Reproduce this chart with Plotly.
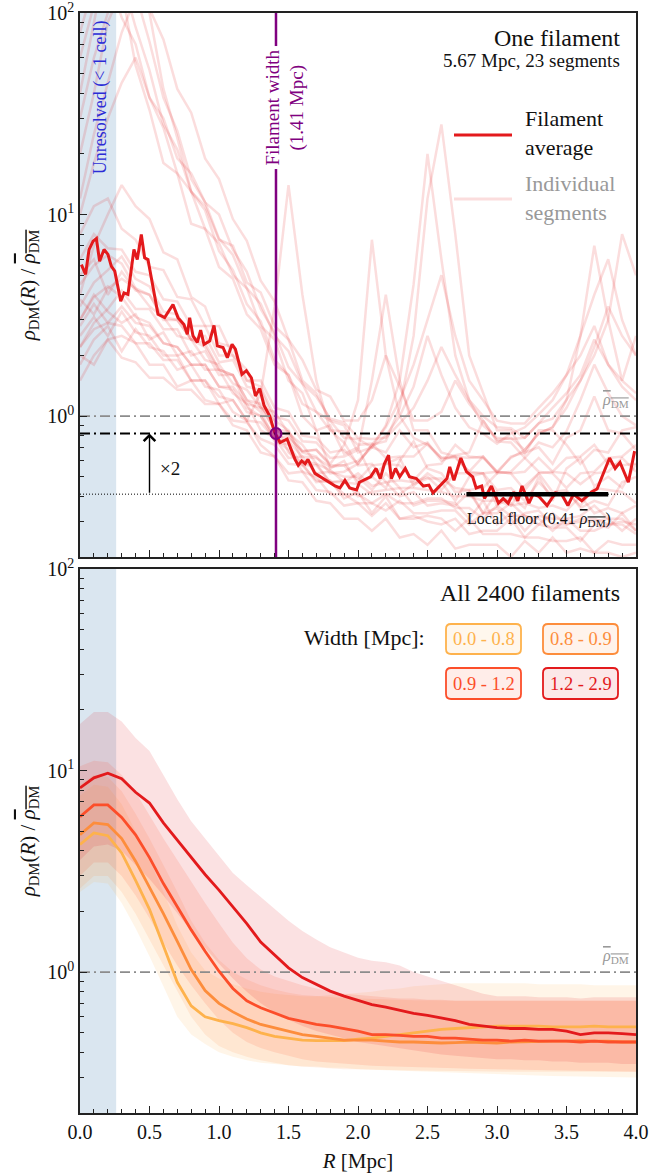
import numpy as np
import plotly.graph_objects as go

# ---------------- data: top panel (one filament) ----------------
R_grid = [round(0.1 * i, 1) for i in range(41)]

R_avg = [0.01, 0.04, 0.065, 0.094, 0.118, 0.141, 0.173, 0.201, 0.225, 0.25, 0.293, 0.317, 0.345,
         0.388, 0.412, 0.441, 0.465, 0.489, 0.561, 0.609, 0.669, 0.705, 0.748, 0.772, 0.789, 0.813,
         0.844, 0.868, 0.892, 0.933, 0.964, 0.988, 1.029, 1.06, 1.094, 1.118, 1.165, 1.197, 1.233,
         1.262, 1.293, 1.324, 1.365, 1.40, 1.44, 1.49, 1.52, 1.547, 1.57, 1.595, 1.62, 1.64, 1.69,
         1.75, 1.80, 1.835, 1.87, 1.906, 1.94, 1.99, 2.01, 2.09, 2.13, 2.16, 2.19, 2.22, 2.24, 2.27,
         2.30, 2.34, 2.37, 2.42, 2.47, 2.51, 2.54, 2.59, 2.64, 2.66, 2.69, 2.74, 2.78, 2.825, 2.85,
         2.89, 2.91, 2.96, 3.01, 3.045, 3.08, 3.12, 3.15, 3.18, 3.23, 3.26, 3.30, 3.36, 3.42, 3.465,
         3.51, 3.55, 3.61, 3.68, 3.72, 3.77, 3.81, 3.85, 3.885, 3.945, 3.99]
rho_avg = [5.65, 5.05, 6.7, 7.38, 7.6, 5.87, 6.71, 6.34, 5.55, 5.24, 3.72, 4.09, 4.02,
           6.71, 5.98, 7.96, 6.1, 5.98, 3.2, 3.08, 3.58, 3.08, 2.85, 2.55, 3.08, 2.5,
           2.32, 2.67, 2.27, 2.36, 2.82, 2.23, 2.19, 1.95, 2.27, 2.15, 1.61, 1.68, 1.55,
           1.26, 1.37, 1.13, 1.0, 0.83, 0.74, 0.77, 0.68, 0.61, 0.57, 0.60, 0.58, 0.61, 0.52,
           0.49, 0.47, 0.45, 0.44, 0.48, 0.44, 0.43, 0.47, 0.50, 0.55, 0.49, 0.58, 0.64, 0.49, 0.55,
           0.50, 0.55, 0.50, 0.49, 0.45, 0.455, 0.416, 0.45, 0.49, 0.56, 0.48, 0.62, 0.53, 0.50, 0.44,
           0.45, 0.39, 0.45, 0.37, 0.39, 0.37, 0.42, 0.38, 0.45, 0.37, 0.41, 0.40, 0.36, 0.416, 0.41,
           0.36, 0.41, 0.38, 0.42, 0.435, 0.53, 0.62, 0.55, 0.59, 0.47, 0.67]

seg01 = [60, 110, 150, 95, 70, 38, 27, 16, 13, 8.5, 7.2, 5, 4.3, 2.8, 2.4, 1.5, 1.3, 0.85, 0.9, 0.65, 0.7, 0.5, 0.58, 0.62, 0.45, 0.52, 0.47, 0.38, 0.5, 0.52, 0.36, 0.4, 0.35, 0.5, 0.38, 0.55, 0.62, 0.45, 0.5, 0.44, 0.58]
seg02 = [20, 40, 90, 130, 55, 33, 18, 16, 9, 8.5, 5.5, 4.8, 3.2, 2.7, 1.8, 1.6, 1.0, 0.85, 0.55, 0.6, 0.46, 0.5, 0.44, 0.6, 0.75, 0.55, 0.52, 0.42, 0.43, 0.33, 0.42, 0.36, 0.45, 0.52, 0.42, 0.43, 0.35, 0.38, 0.36, 0.47, 0.5]
seg03 = [8, 11, 12, 8.5, 7.5, 5.5, 5.3, 3.9, 3.8, 2.8, 2.8, 2.0, 1.7, 1.1, 0.95, 0.66, 0.58, 0.47, 0.48, 0.39, 0.42, 0.33, 0.4, 0.31, 0.32, 0.3, 0.29, 0.31, 0.26, 0.27, 0.27, 0.31, 0.25, 0.29, 0.28, 0.28, 0.24, 0.29, 0.28, 0.33, 0.27]
seg04 = [5, 6, 4, 5.2, 4.2, 4.0, 3.0, 3.0, 2.4, 2.3, 1.7, 1.6, 1.1, 1.0, 0.75, 0.72, 0.57, 0.57, 0.47, 0.47, 0.52, 0.45, 0.47, 0.4, 0.42, 0.36, 0.37, 0.36, 0.42, 0.33, 0.35, 0.29, 0.33, 0.34, 0.29, 0.29, 0.31, 0.31, 0.29, 0.3, 0.29]
seg05 = [3, 4, 3.3, 2.9, 3.2, 2.4, 2.6, 2.0, 2.1, 1.7, 1.7, 1.3, 1.15, 0.85, 0.78, 0.62, 0.63, 0.52, 0.53, 0.5, 0.5, 0.43, 0.52, 0.44, 0.44, 0.43, 0.42, 0.4, 0.4, 0.38, 0.38, 0.36, 0.37, 0.35, 0.36, 0.34, 0.4, 0.33, 0.35, 0.33, 0.36]
seg06 = [2.2, 2.9, 3.4, 4.2, 3.4, 3.4, 2.7, 2.7, 2.0, 2.1, 1.6, 1.6, 1.2, 1.15, 0.85, 0.8, 0.66, 0.63, 0.52, 0.53, 0.58, 0.72, 0.75, 1.1, 2.5, 12, 28, 8, 2, 1.3, 0.85, 0.85, 0.65, 0.85, 0.85, 0.72, 0.58, 0.68, 0.66, 0.85, 0.88]
seg07 = [4, 7, 10, 14, 11, 9.5, 6.5, 6, 3.9, 3.5, 2.3, 2.2, 1.5, 1.4, 1.0, 0.95, 0.75, 0.74, 0.62, 0.63, 0.68, 1.5, 4, 1.5, 0.85, 0.85, 0.66, 0.63, 0.62, 0.63, 0.52, 0.63, 0.66, 0.7, 0.58, 0.78, 0.85, 1.25, 0.85, 0.82, 0.68]
seg08 = [12, 25, 45, 80, 120, 100, 42, 24, 13, 11, 7.5, 7, 4.6, 4.1, 2.8, 2.4, 1.5, 1.3, 0.95, 0.9, 0.66, 0.7, 0.66, 0.85, 0.7, 0.74, 0.6, 0.64, 0.66, 0.95, 0.75, 0.74, 0.62, 0.74, 0.7, 0.84, 1.2, 1.8, 1.3, 1.0, 0.9]
seg09 = [3.5, 4.6, 5.3, 6.2, 4.8, 4.4, 3.3, 3.2, 2.4, 2.5, 1.85, 1.9, 1.4, 1.35, 0.95, 0.85, 0.6, 0.58, 0.47, 0.48, 0.4, 0.42, 0.43, 0.44, 0.36, 0.38, 0.38, 0.37, 0.31, 0.38, 0.29, 0.33, 0.27, 0.32, 0.31, 0.31, 0.27, 0.27, 0.29, 0.29, 0.26]
seg10 = [2.5, 3.1, 2.5, 3.3, 2.6, 2.5, 2.0, 2.0, 1.5, 1.5, 1.15, 1.2, 0.95, 1.3, 3.5, 14, 4, 1.5, 0.85, 0.74, 0.57, 0.58, 0.47, 0.48, 0.47, 0.5, 0.43, 0.52, 0.52, 0.52, 0.43, 0.44, 0.38, 0.47, 0.4, 0.42, 0.36, 0.44, 0.43, 0.42, 0.37]
seg11 = [1.8, 2.4, 2.8, 2.1, 2.7, 2.2, 2.1, 1.7, 1.8, 1.4, 1.35, 1.05, 0.95, 0.72, 0.63, 0.48, 0.47, 0.38, 0.37, 0.31, 0.31, 0.27, 0.31, 0.25, 0.26, 0.23, 0.27, 0.22, 0.23, 0.23, 0.23, 0.2, 0.24, 0.21, 0.25, 0.21, 0.22, 0.21, 0.21, 0.2, 0.21]
seg12 = [30, 60, 100, 140, 160, 105, 74, 42, 32, 19, 15, 9.5, 7.4, 4.7, 3.7, 2.4, 1.9, 1.35, 1.25, 0.95, 0.95, 1.2, 2.0, 1.4, 0.95, 0.95, 1.05, 1.5, 1.15, 0.95, 0.76, 0.78, 0.68, 0.82, 0.88, 1.1, 1.5, 2.2, 3.5, 2.5, 2.0]
seg13 = [6, 8, 6.8, 6.7, 5.2, 5.0, 3.8, 3.7, 2.8, 2.8, 2.0, 2.0, 1.5, 1.5, 1.1, 1.05, 0.8, 0.78, 0.66, 0.68, 0.58, 0.72, 0.88, 1.2, 1.8, 3.0, 5.0, 2.5, 1.5, 1.2, 0.95, 0.92, 0.92, 1.1, 1.3, 1.6, 2.0, 2.8, 1.8, 1.4, 1.2]
seg14 = [2, 1.8, 2.4, 2.5, 2.3, 1.8, 1.8, 1.4, 1.5, 1.2, 1.15, 0.9, 0.85, 0.66, 0.63, 0.52, 0.53, 0.43, 0.42, 0.36, 0.37, 0.32, 0.37, 0.31, 0.31, 0.32, 0.31, 0.27, 0.31, 0.26, 0.26, 0.26, 0.25, 0.25, 0.24, 0.24, 0.25, 0.21, 0.24, 0.23, 0.23]
seg15 = [3, 3.9, 4.4, 3.9, 3.1, 2.9, 2.3, 2.2, 1.8, 1.8, 1.4, 1.35, 1.05, 1.0, 0.8, 0.78, 0.67, 0.68, 0.57, 0.57, 0.48, 0.57, 0.58, 0.57, 0.48, 0.57, 0.58, 0.72, 0.63, 0.62, 0.53, 0.62, 0.68, 0.82, 0.88, 1.2, 2.5, 7, 3, 1.5, 2.5]
seg16 = [80, 140, 180, 150, 85, 52, 28, 21, 13, 10.5, 6.6, 5.3, 3.6, 2.95, 1.9, 1.6, 1.15, 1.05, 0.85, 0.84, 0.72, 0.73, 0.62, 0.63, 0.63, 0.73, 0.62, 0.63, 0.53, 0.63, 0.53, 0.52, 0.53, 0.62, 0.53, 0.62, 0.63, 0.72, 0.58, 0.57, 0.58]
seg17 = [2.8, 3.6, 2.9, 3.5, 2.9, 2.8, 2.3, 2.2, 1.8, 1.8, 1.4, 1.4, 1.15, 1.1, 0.86, 0.84, 0.67, 0.68, 0.58, 0.72, 1.2, 7.5, 2.0, 1.0, 0.78, 0.72, 0.62, 0.62, 0.53, 0.52, 0.53, 0.52, 0.43, 0.52, 0.53, 0.52, 0.46, 0.52, 0.53, 0.62, 0.53]
seg18 = [4.5, 5.6, 6.3, 5.7, 4.3, 4.0, 3.1, 3.0, 2.4, 2.2, 1.7, 1.6, 1.2, 1.05, 0.77, 0.68, 0.53, 0.5, 0.41, 0.41, 0.37, 0.37, 0.34, 0.38, 0.33, 0.33, 0.34, 0.34, 0.29, 0.33, 0.33, 0.37, 0.32, 0.31, 0.27, 0.31, 0.32, 0.36, 0.31, 0.31, 0.27]
seg19 = [2.2, 2.7, 2.9, 2.8, 2.3, 2.3, 1.9, 1.9, 1.5, 1.5, 1.25, 1.2, 0.95, 0.93, 0.77, 0.75, 0.63, 0.62, 0.56, 0.57, 0.6, 0.7, 0.9, 1.5, 4.5, 20, 6, 2, 1.2, 0.9, 0.78, 0.77, 0.78, 0.92, 0.97, 1.2, 1.5, 2.0, 3.0, 8.0, 5]
seg20 = [1.5, 2.0, 2.4, 1.95, 1.85, 1.55, 1.55, 1.35, 1.35, 1.15, 1.15, 0.95, 0.93, 0.77, 0.72, 0.58, 0.57, 0.48, 0.47, 0.41, 0.41, 0.37, 0.41, 0.41, 0.46, 0.49, 0.49, 0.44, 0.43, 0.44, 0.52, 0.53, 0.62, 0.53, 0.52, 0.44, 0.52, 0.53, 0.62, 0.63, 0.72]
seg21 = [10, 18, 30, 45, 60, 38, 30, 19, 16, 11.5, 10, 6.7, 5.2, 3.4, 2.6, 1.75, 1.45, 1.05, 0.95, 0.78, 0.77, 0.7, 0.8, 1.0, 1.4, 2.5, 1.6, 1.1, 0.88, 0.82, 0.73, 0.82, 0.88, 1.02, 1.2, 1.6, 2.5, 4, 6, 3, 2]
seg22 = [3.8, 3.2, 4.3, 4.8, 4.3, 3.5, 3.1, 2.5, 2.4, 1.9, 1.8, 1.45, 1.35, 1.1, 1.05, 0.82, 0.72, 0.58, 0.54, 0.47, 0.46, 0.41, 0.41, 0.37, 0.37, 0.39, 0.39, 0.35, 0.35, 0.31, 0.36, 0.32, 0.32, 0.29, 0.33, 0.29, 0.3, 0.3, 0.31, 0.27, 0.31]
seg23 = [40, 90, 200, 220, 125, 72, 38, 26, 15, 11.5, 7.6, 6.3, 4.3, 3.6, 2.5, 2.1, 1.45, 1.25, 0.97, 0.93, 0.78, 0.77, 0.78, 0.92, 1.1, 1.5, 2.2, 1.6, 1.2, 1.0, 0.88, 0.87, 0.78, 0.92, 1.1, 1.3, 1.6, 2.4, 1.8, 1.5, 1.3]
segments = [seg01, seg02, seg03, seg04, seg05, seg06, seg07, seg08, seg09, seg10, seg11, seg12,
            seg13, seg14, seg15, seg16, seg17, seg18, seg19, seg20, seg21, seg22, seg23]

fil_width = 1.41
floor_val = 0.41
floor_R = [2.78, 3.80]
unresolved_R = 0.26

# ---------------- data: bottom panel (all filaments) ----------------
width_labels = ["0.0 - 0.8", "0.8 - 0.9", "0.9 - 1.2", "1.2 - 2.9"]
width_colors = ["#feb24c", "#fd8d3c", "#fc4e2a", "#e31a1c"]

med_w1 = [4.3, 4.9, 4.75, 3.9, 2.85, 2.05, 1.35, 0.89, 0.68, 0.60, 0.575, 0.555, 0.53, 0.50, 0.48, 0.47, 0.46, 0.457, 0.457, 0.457, 0.465, 0.47, 0.48, 0.49, 0.50, 0.51, 0.52, 0.525, 0.53, 0.535, 0.54, 0.54, 0.54, 0.54, 0.535, 0.535, 0.535, 0.54, 0.535, 0.535, 0.535]
med_w2 = [4.8, 5.5, 5.4, 4.6, 3.55, 2.65, 1.95, 1.42, 1.03, 0.81, 0.70, 0.635, 0.585, 0.55, 0.53, 0.51, 0.49, 0.48, 0.47, 0.46, 0.46, 0.46, 0.455, 0.45, 0.45, 0.447, 0.445, 0.447, 0.45, 0.447, 0.445, 0.45, 0.452, 0.455, 0.455, 0.455, 0.457, 0.455, 0.455, 0.45, 0.45]
med_w3 = [5.9, 6.75, 6.75, 5.85, 4.8, 3.7, 2.75, 2.1, 1.62, 1.27, 1.01, 0.83, 0.72, 0.665, 0.625, 0.59, 0.57, 0.55, 0.54, 0.525, 0.51, 0.49, 0.49, 0.485, 0.48, 0.48, 0.47, 0.47, 0.465, 0.46, 0.46, 0.455, 0.46, 0.455, 0.455, 0.455, 0.45, 0.455, 0.45, 0.45, 0.45]
med_w4 = [8.2, 9.2, 9.7, 9.1, 7.8, 6.9, 5.5, 4.5, 3.7, 3.05, 2.55, 2.1, 1.74, 1.41, 1.21, 1.05, 0.94, 0.87, 0.805, 0.76, 0.725, 0.69, 0.67, 0.645, 0.625, 0.61, 0.59, 0.575, 0.55, 0.54, 0.53, 0.525, 0.525, 0.52, 0.52, 0.51, 0.49, 0.50, 0.50, 0.495, 0.49]

up_w1 = [7.5, 8.5, 8.3, 6.8, 5.0, 3.6, 2.5, 1.7, 1.25, 1.02, 0.93, 0.87, 0.83, 0.80, 0.78, 0.77, 0.76, 0.76, 0.77, 0.78, 0.79, 0.80, 0.82, 0.83, 0.85, 0.86, 0.87, 0.88, 0.88, 0.88, 0.88, 0.88, 0.88, 0.87, 0.87, 0.87, 0.87, 0.86, 0.86, 0.86, 0.86]
lo_w1 = [2.5, 2.8, 2.75, 2.2, 1.65, 1.2, 0.85, 0.60, 0.49, 0.44, 0.40, 0.38, 0.365, 0.355, 0.35, 0.345, 0.34, 0.34, 0.335, 0.335, 0.33, 0.328, 0.326, 0.324, 0.322, 0.32, 0.318, 0.316, 0.314, 0.312, 0.31, 0.31, 0.308, 0.306, 0.305, 0.304, 0.303, 0.302, 0.301, 0.30, 0.30]
up_w2 = [8.5, 9.5, 9.3, 7.9, 6.1, 4.6, 3.4, 2.5, 1.8, 1.4, 1.15, 1.0, 0.92, 0.86, 0.82, 0.79, 0.77, 0.76, 0.75, 0.745, 0.74, 0.735, 0.73, 0.73, 0.725, 0.725, 0.72, 0.72, 0.72, 0.72, 0.72, 0.72, 0.72, 0.72, 0.72, 0.72, 0.72, 0.72, 0.72, 0.72, 0.72]
lo_w2 = [2.6, 3.0, 3.0, 2.5, 1.95, 1.45, 1.08, 0.80, 0.60, 0.49, 0.43, 0.40, 0.38, 0.365, 0.355, 0.345, 0.34, 0.336, 0.333, 0.33, 0.33, 0.328, 0.327, 0.326, 0.325, 0.324, 0.323, 0.322, 0.321, 0.32, 0.32, 0.32, 0.32, 0.32, 0.32, 0.32, 0.32, 0.32, 0.32, 0.32, 0.32]
up_w3 = [10.5, 11.2, 11.0, 9.5, 7.8, 6.0, 4.6, 3.6, 2.8, 2.2, 1.75, 1.4, 1.17, 1.03, 0.95, 0.90, 0.86, 0.83, 0.80, 0.78, 0.77, 0.76, 0.75, 0.74, 0.74, 0.73, 0.73, 0.72, 0.72, 0.72, 0.72, 0.72, 0.72, 0.72, 0.72, 0.72, 0.72, 0.72, 0.72, 0.72, 0.72]
lo_w3 = [3.0, 3.5, 3.5, 3.0, 2.4, 1.85, 1.4, 1.08, 0.86, 0.70, 0.58, 0.50, 0.45, 0.42, 0.40, 0.385, 0.37, 0.36, 0.355, 0.35, 0.345, 0.343, 0.341, 0.339, 0.337, 0.335, 0.334, 0.333, 0.332, 0.331, 0.33, 0.329, 0.328, 0.327, 0.326, 0.325, 0.324, 0.323, 0.322, 0.321, 0.32]
up_w4 = [17, 19.5, 19.5, 17.5, 14.5, 12.5, 9.5, 7.2, 5.6, 4.6, 3.8, 3.1, 2.7, 2.35, 2.05, 1.8, 1.6, 1.45, 1.33, 1.25, 1.18, 1.14, 1.12, 1.08, 1.0, 0.95, 0.90, 0.86, 0.82, 0.78, 0.76, 0.76, 0.76, 0.75, 0.75, 0.75, 0.74, 0.75, 0.75, 0.75, 0.75]
lo_w4 = [3.6, 4.2, 4.3, 4.0, 3.4, 2.9, 2.4, 1.95, 1.6, 1.32, 1.1, 0.93, 0.80, 0.70, 0.63, 0.58, 0.54, 0.51, 0.49, 0.47, 0.45, 0.44, 0.43, 0.42, 0.41, 0.40, 0.39, 0.385, 0.38, 0.375, 0.37, 0.37, 0.365, 0.365, 0.36, 0.36, 0.355, 0.355, 0.355, 0.35, 0.35]

medians = [med_w1, med_w2, med_w3, med_w4]
uppers = [up_w1, up_w2, up_w3, up_w4]
lowers = [lo_w1, lo_w2, lo_w3, lo_w4]

# ---------------- figure ----------------
FONT = "Liberation Serif"
W, H = 671, 1173
ML, MR, MT, MB = 80, 35, 13, 60
PW = W - ML - MR
PH = H - MT - MB
GAP = 12
panel_h = (PH - GAP) / 2.0


def rgba(hexc, a):
    h = hexc.lstrip('#')
    return "rgba(%d,%d,%d,%.3f)" % (int(h[0:2], 16), int(h[2:4], 16), int(h[4:6], 16), a)


def px2paper(px, py):
    return (px - ML) / PW, (H - MB - py) / PH


fig = go.Figure()

RED = "#e31a1c"
PURPLE = "#800080"

for s in segments:
    fig.add_trace(go.Scatter(x=R_grid, y=s, mode="lines", xaxis="x", yaxis="y",
                             line=dict(color=rgba(RED, 0.15), width=2.5), showlegend=False,
                             hoverinfo="skip"))
fig.add_trace(go.Scatter(x=R_avg, y=rho_avg, mode="lines", xaxis="x", yaxis="y",
                         line=dict(color=RED, width=3), showlegend=False))

DASHDOT = "10px,4px,2px,4px"
fig.add_trace(go.Scatter(x=[0, 4], y=[1, 1], mode="lines", xaxis="x", yaxis="y",
                         line=dict(color="#8c8c8c", width=1.6, dash=DASHDOT), showlegend=False))
fig.add_trace(go.Scatter(x=[0, 4], y=[2 * floor_val, 2 * floor_val], mode="lines", xaxis="x", yaxis="y",
                         line=dict(color="black", width=2, dash=DASHDOT), showlegend=False))
fig.add_trace(go.Scatter(x=[0, 4], y=[floor_val, floor_val], mode="lines", xaxis="x", yaxis="y",
                         line=dict(color="black", width=1, dash="1px,2px"), showlegend=False))
fig.add_trace(go.Scatter(x=floor_R, y=[floor_val, floor_val], mode="lines", xaxis="x", yaxis="y",
                         line=dict(color="black", width=4.5), showlegend=False))
fig.add_trace(go.Scatter(x=[fil_width, fil_width], y=[0.2, 100], mode="lines", xaxis="x", yaxis="y",
                         line=dict(color=PURPLE, width=2.5), showlegend=False))
fig.add_trace(go.Scatter(x=[fil_width], y=[2 * floor_val], mode="markers", xaxis="x", yaxis="y",
                         marker=dict(size=11, color="rgba(150,0,120,0.55)",
                                     line=dict(color=PURPLE, width=2)), showlegend=False))

for med, up, lo, col in zip(medians, uppers, lowers, width_colors):
    fig.add_trace(go.Scatter(x=R_grid, y=lo, mode="lines", xaxis="x2", yaxis="y2",
                             line=dict(width=0, color=rgba(col, 0)), showlegend=False, hoverinfo="skip"))
    fig.add_trace(go.Scatter(x=R_grid, y=up, mode="lines", xaxis="x2", yaxis="y2", fill="tonexty",
                             fillcolor=rgba(col, 0.13), line=dict(width=0, color=rgba(col, 0)),
                             showlegend=False, hoverinfo="skip"))
fig.add_trace(go.Scatter(x=[0, 4], y=[1, 1], mode="lines", xaxis="x2", yaxis="y2",
                         line=dict(color="#8c8c8c", width=1.6, dash=DASHDOT), showlegend=False))
for med, col in zip(medians, width_colors):
    fig.add_trace(go.Scatter(x=R_grid, y=med, mode="lines", xaxis="x2", yaxis="y2",
                             line=dict(color=col, width=2.8), showlegend=False))

minor_log = [m * 10 ** k for k in (-1, 0, 1) for m in range(2, 10) if 0.2 <= m * 10 ** k <= 100]
xcommon = dict(range=[0, 4], showline=True, linecolor="#222", linewidth=1.5, mirror=True,
               ticks="inside", ticklen=7, tickwidth=1.3, tickcolor="#222", showgrid=False,
               zeroline=False, tickmode="array", tickvals=[0.5 * i for i in range(9)],
               ticktext=["%.1f" % (0.5 * i) for i in range(9)], automargin=False,
               ticklabeloverflow="allow",
               minor=dict(ticks="inside", ticklen=4, tickwidth=1, tickcolor="#222",
                          tickmode="array", tickvals=[round(0.1 * i, 1) for i in range(41)]),
               tickfont=dict(family=FONT, size=20, color="#111"))
ytitle = ("<i>ρ</i><sub>DM</sub>(<i>R</i>) / "
          "<span style='text-decoration:overline'><i>ρ</i><sub>DM</sub></span>")
ycommon = dict(type="log", range=[np.log10(0.2), 2], showline=True, linecolor="#222", linewidth=1.5,
               mirror=True, ticks="inside", ticklen=7, tickwidth=1.3, tickcolor="#222",
               showgrid=False, zeroline=False, tickmode="array", tickvals=[1, 10, 100],
               ticktext=["10<sup>0</sup>", "10<sup>1</sup>", "10<sup>2</sup>"], automargin=False,
               ticklabeloverflow="allow",
               minor=dict(ticks="inside", ticklen=4, tickwidth=1, tickcolor="#222",
                          tickmode="array", tickvals=minor_log),
               tickfont=dict(family=FONT, size=20, color="#111"),
               title=dict(text=ytitle, font=dict(family=FONT, size=21, color="#111"), standoff=6))

top_dom = [(panel_h + GAP) / PH, 1.0]
bot_dom = [0.0, panel_h / PH]

fig.update_layout(
    width=W, height=H, margin=dict(l=ML, r=MR, t=MT, b=MB, autoexpand=False),
    paper_bgcolor="white", plot_bgcolor="white", showlegend=False,
    font=dict(family=FONT, color="#111"),
    xaxis=dict(xcommon, domain=[0, 1], anchor="y", showticklabels=False, matches="x2"),
    yaxis=dict(ycommon, domain=top_dom, anchor="x"),
    xaxis2=dict(xcommon, domain=[0, 1], anchor="y2",
                title=dict(text="<i>R</i> [Mpc]", font=dict(family=FONT, size=21, color="#111"),
                           standoff=14)),
    yaxis2=dict(ycommon, domain=bot_dom, anchor="x2"),
)

shapes = []
annotations = []
for xr, yr in (("x", "y"), ("x2", "y2")):
    shapes.append(dict(type="rect", xref=xr, yref=yr + " domain", x0=0, x1=unresolved_R, y0=0, y1=1,
                       fillcolor="rgba(70,130,180,0.2)", line=dict(width=0), layer="below"))

lx0, _ = px2paper(454, 0)
lx1, _ = px2paper(512, 0)
_, ly1 = px2paper(0, 135)
_, ly2 = px2paper(0, 199)
shapes.append(dict(type="line", xref="paper", yref="paper", x0=lx0, x1=lx1, y0=ly1, y1=ly1,
                   line=dict(color=RED, width=3)))
shapes.append(dict(type="line", xref="paper", yref="paper", x0=lx0, x1=lx1, y0=ly2, y1=ly2,
                   line=dict(color=rgba(RED, 0.15), width=3)))
tx, ty1 = px2paper(523, 133)
_, ty2 = px2paper(523, 197.5)
annotations.append(dict(xref="paper", yref="paper", x=tx, y=ty1, xanchor="left", yanchor="middle",
                        text="Filament<br>average", showarrow=False, align="left",
                        font=dict(family=FONT, size=22, color="#111")))
annotations.append(dict(xref="paper", yref="paper", x=tx, y=ty2, xanchor="left", yanchor="middle",
                        text="Individual<br>segments", showarrow=False, align="left",
                        font=dict(family=FONT, size=22, color="#999")))

x_r, y_t1 = px2paper(622, 38)
_, y_t2 = px2paper(622, 60)
annotations.append(dict(xref="paper", yref="paper", x=x_r, y=y_t1, xanchor="right", yanchor="middle",
                        text="One filament", showarrow=False, font=dict(family=FONT, size=24, color="#111")))
annotations.append(dict(xref="paper", yref="paper", x=x_r, y=y_t2, xanchor="right", yanchor="middle",
                        text="5.67 Mpc, 23 segments", showarrow=False,
                        font=dict(family=FONT, size=19, color="#111")))
_, y_b1 = px2paper(622, 593)
annotations.append(dict(xref="paper", yref="paper", x=x_r, y=y_b1, xanchor="right", yanchor="middle",
                        text="All 2400 filaments", showarrow=False, font=dict(family=FONT, size=24, color="#111")))
wx, wy = px2paper(427, 638)
annotations.append(dict(xref="paper", yref="paper", x=wx, y=wy, xanchor="right", yanchor="middle",
                        text="Width [Mpc]:", showarrow=False, font=dict(family=FONT, size=22, color="#111")))


def rrect_path(px0, py0, px1, py1, r):
    xl, yt = px2paper(px0, py0)
    xr, yb = px2paper(px1, py1)
    rx, ry = r / PW, r / PH
    return ("M {a},{t} L {b},{t} Q {xr},{t} {xr},{c} L {xr},{d} Q {xr},{yb} {b},{yb} "
            "L {a},{yb} Q {xl},{yb} {xl},{d} L {xl},{c} Q {xl},{t} {a},{t} Z").format(
        a=xl + rx, b=xr - rx, t=yt, c=yt - ry, d=yb + ry, xr=xr, xl=xl, yb=yb)


box_pos = [(446, 624, 521, 654), (543, 624, 618, 654), (446, 668, 521, 699), (543, 668, 618, 699)]
for (bx0, by0, bx1, by1), lab, col in zip(box_pos, width_labels, width_colors):
    shapes.append(dict(type="path", xref="paper", yref="paper", path=rrect_path(bx0, by0, bx1, by1, 5),
                       fillcolor=rgba(col, 0.1), line=dict(color=col, width=1.8)))
    cx, cy = px2paper((bx0 + bx1) / 2, (by0 + by1) / 2)
    annotations.append(dict(xref="paper", yref="paper", x=cx, y=cy, xanchor="center", yanchor="middle",
                            text=lab, showarrow=False, font=dict(family=FONT, size=18.5, color=col)))

annotations.append(dict(xref="x", yref="y domain", x=0.145, y=(557 - 97) / panel_h, text="Unresolved (< 1 cell)",
                        textangle=-90, showarrow=False, xanchor="center", yanchor="middle",
                        font=dict(family=FONT, size=18, color="#2b2bd6")))
annotations.append(dict(xref="x", yref="y domain", x=1.475, y=(557 - 107.5) / panel_h,
                        text="Filament width<br>(1.41 Mpc)", textangle=-90, showarrow=False,
                        xanchor="center", yanchor="middle", bgcolor="white", borderpad=3,
                        font=dict(family=FONT, size=19, color=PURPLE)))

bar_label = "<span style='text-decoration:overline'><i>ρ</i><sub>DM</sub></span>"
annotations.append(dict(xref="x", yref="y", x=3.85, y=np.log10(1.0), yshift=16, text=bar_label,
                        showarrow=False, xanchor="center", yanchor="middle",
                        font=dict(family=FONT, size=16, color="#999")))
annotations.append(dict(xref="x2", yref="y2", x=3.85, y=np.log10(1.0), yshift=16, text=bar_label,
                        showarrow=False, xanchor="center", yanchor="middle",
                        font=dict(family=FONT, size=16, color="#999")))

annotations.append(dict(xref="x", yref="y", axref="x", ayref="y", x=0.5, y=np.log10(2 * floor_val),
                        ax=0.5, ay=np.log10(floor_val), showarrow=True, arrowhead=4, arrowsize=1.6,
                        arrowwidth=1.4, arrowcolor="black", text=""))
annotations.append(dict(xref="x", yref="y", x=0.56, y=np.log10(0.55), text="×2", showarrow=False,
                        xanchor="left", yanchor="middle", font=dict(family=FONT, size=19, color="#111")))
annotations.append(dict(xref="x", yref="y domain", x=3.3, y=(557 - 519) / panel_h,
                        text="Local floor (0.41 " + bar_label + ")", showarrow=False,
                        xanchor="center", yanchor="middle", font=dict(family=FONT, size=16, color="#111")))

fig.update_layout(shapes=shapes, annotations=annotations)

fig.write_html("out.html")
